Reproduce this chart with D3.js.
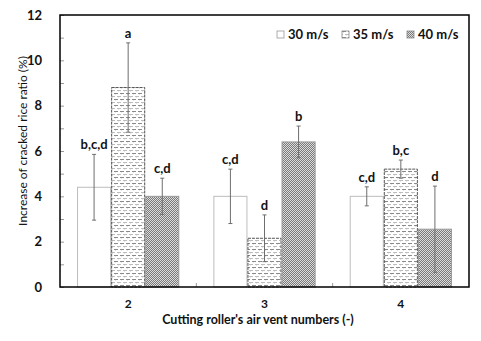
<!DOCTYPE html>
<html>
<head>
<meta charset="utf-8">
<script src="https://cdn.jsdelivr.net/npm/d3@7"></script>
<style>
  body { margin: 0; background: #fff; }
  text { font-family: Lato, "Open Sans", sans-serif; }
</style>
</head>
<body>
<svg id="chart" width="481" height="341"></svg>
<script>
// vent numbers on the x axis
const groups = ["2", "3", "4"];
const speeds = ["30 m/s", "35 m/s", "40 m/s"];

// mean increase of cracked rice ratio (%), one array per speed
const means30 = [4.4, 4.0, 4.0];
const means35 = [8.8, 2.15, 5.2];
const means40 = [4.0, 6.4, 2.55];

// half width of the error bars
const err30 = [1.45, 1.2, 0.42];
const err35 = [1.97, 1.03, 0.4];
const err40 = [0.8, 0.7, 1.9];

// letters of the significance groups
const letters30 = ["b,c,d", "c,d", "c,d"];
const letters35 = ["a", "d", "b,c"];
const letters40 = ["c,d", "b", "d"];

const yTicks = [0, 2, 4, 6, 8, 10, 12];

const series = [
    {key: speeds[0], means: means30, err: err30, letters: letters30},
    {key: speeds[1], means: means35, err: err35, letters: letters35},
    {key: speeds[2], means: means40, err: err40, letters: letters40}
];

const svg = d3.select("#chart");
const margin = {left: 60, top: 15, right: 12, bottom: 54};
const width = 481 - margin.left - margin.right;
const height = 341 - margin.top - margin.bottom;

// fill patterns
const defs = svg.append("defs");

let p35 = defs.append("pattern")
    .attr("id", "pat35")
    .attr("patternUnits", "userSpaceOnUse")
    .attr("width", 6).attr("height", 6);
p35.append("rect").attr("width", 6).attr("height", 6).attr("fill", "#fff");
p35.append("rect").attr("x", 0).attr("y", 0).attr("width", 4).attr("height", 1).attr("fill", "#8a8a8a");
p35.append("rect").attr("x", 3).attr("y", 3).attr("width", 4).attr("height", 1).attr("fill", "#bdbdbd");
p35.append("rect").attr("x", -3).attr("y", 3).attr("width", 4).attr("height", 1).attr("fill", "#bdbdbd");
p35.append("rect").attr("x", 1).attr("y", 1).attr("width", 1).attr("height", 1).attr("fill", "#e4e4e4");
p35.append("rect").attr("x", 4).attr("y", 4).attr("width", 1).attr("height", 1).attr("fill", "#e4e4e4");

let p40 = defs.append("pattern")
    .attr("id", "pat40")
    .attr("patternUnits", "userSpaceOnUse")
    .attr("width", 2).attr("height", 2);
p40.append("rect").attr("width", 2).attr("height", 2).attr("fill", "#dcdcdc");
p40.append("rect").attr("x", 0).attr("y", 0).attr("width", 1).attr("height", 1).attr("fill", "#7a7a7a");
p40.append("rect").attr("x", 1).attr("y", 1).attr("width", 1).attr("height", 1).attr("fill", "#7a7a7a");

const fills = {"30 m/s": "#fff", "35 m/s": "url(#pat35)", "40 m/s": "url(#pat40)"};
const strokes = {"30 m/s": "#bdbdbd", "35 m/s": "#555", "40 m/s": "#9a9a9a"};

const g = svg.append("g").attr("transform", `translate(${margin.left},${margin.top})`);

const x0 = d3.scaleBand().domain(groups).range([0, width]).paddingInner(0).paddingOuter(0);
const x1 = d3.scaleBand().domain(speeds).range([0, x0.bandwidth()]).paddingInner(0).paddingOuter(0.5);
const y = d3.scaleLinear().domain([0, 12]).range([height, 0]);

// minor ticks inside left axis
g.append("g")
    .call(d3.axisLeft(y).tickValues(d3.range(0, 13, 1)).tickSize(-4).tickFormat(""))
    .call(a => a.select(".domain").remove())
    .call(a => a.selectAll("line").attr("stroke", "#999"));

// tick labels
g.append("g")
    .call(d3.axisLeft(y).tickValues(yTicks).tickSize(0).tickPadding(18))
    .call(a => a.select(".domain").remove())
    .call(a => a.selectAll("text")
        .attr("font-size", 13).attr("font-weight", "bold").attr("fill", "#111"));

// x axis group separators
g.append("g")
    .selectAll("line")
    .data(groups.slice(1))
    .join("line")
    .attr("x1", d => x0(d)).attr("x2", d => x0(d))
    .attr("y1", height).attr("y2", height - 4)
    .attr("stroke", "#999");

g.append("g")
    .attr("transform", `translate(0,${height})`)
    .call(d3.axisBottom(x0).tickSize(0).tickPadding(12))
    .call(a => a.select(".domain").remove())
    .call(a => a.selectAll("text")
        .attr("font-size", 12).attr("font-weight", "bold").attr("fill", "#111"));

// bars
const barData = [];
series.forEach(s => {
    groups.forEach((grp, i) => {
        barData.push({group: grp, key: s.key, value: s.means[i], err: s.err[i], letter: s.letters[i]});
    });
});

const bw = x1.bandwidth();
const bx = d => x0(d.group) + x1(d.key);

g.append("g")
    .selectAll("rect")
    .data(barData)
    .join("rect")
    .attr("x", d => bx(d) + 0.5)
    .attr("y", d => y(d.value))
    .attr("width", bw - 1)
    .attr("height", d => height - y(d.value))
    .attr("fill", d => fills[d.key])
    .attr("stroke", d => strokes[d.key])
    .attr("stroke-width", 1)
    .attr("stroke-dasharray", d => d.key === "35 m/s" ? "3,1" : null);

// error bars
let eb = g.append("g").attr("stroke", "#6e6e6e").attr("stroke-width", 1);
eb.selectAll("line.v")
    .data(barData)
    .join("line")
    .attr("class", "v")
    .attr("x1", d => bx(d) + bw / 2).attr("x2", d => bx(d) + bw / 2)
    .attr("y1", d => y(d.value + d.err)).attr("y2", d => y(d.value - d.err));
eb.selectAll("line.t")
    .data(barData)
    .join("line")
    .attr("class", "t")
    .attr("x1", d => bx(d) + bw / 2 - 2).attr("x2", d => bx(d) + bw / 2 + 2)
    .attr("y1", d => y(d.value + d.err)).attr("y2", d => y(d.value + d.err));
eb.selectAll("line.b")
    .data(barData)
    .join("line")
    .attr("class", "b")
    .attr("x1", d => bx(d) + bw / 2 - 2).attr("x2", d => bx(d) + bw / 2 + 2)
    .attr("y1", d => y(d.value - d.err)).attr("y2", d => y(d.value - d.err));

// significance letters
g.append("g")
    .selectAll("text")
    .data(barData)
    .join("text")
    .attr("x", d => bx(d) + bw / 2)
    .attr("y", d => y(d.value + d.err) - 5)
    .attr("text-anchor", "middle")
    .attr("font-size", 13)
    .attr("font-weight", "bold")
    .attr("fill", "#111")
    .text(d => d.letter);

// frame
g.append("rect")
    .attr("width", width).attr("height", height)
    .attr("fill", "none").attr("stroke", "#000").attr("stroke-width", 1.5);

// legend
const legX = [277, 342, 407];
let leg = g.append("g").attr("transform", `translate(${-margin.left},${-margin.top})`)
    .selectAll("g")
    .data(speeds)
    .join("g")
    .attr("transform", (d, i) => `translate(${legX[i]},31)`);
leg.append("rect")
    .attr("width", 7).attr("height", 7)
    .attr("fill", d => fills[d])
    .attr("stroke", d => d === "30 m/s" ? "#999" : "#888")
    .attr("stroke-width", 0.8);
leg.append("text")
    .attr("x", 11).attr("y", 8)
    .attr("font-size", 13).attr("font-weight", "bold").attr("fill", "#111")
    .text(d => d);

// axis titles
svg.append("text")
    .attr("transform", "translate(27,141) rotate(-90)")
    .attr("text-anchor", "middle")
    .attr("font-size", 12)
    .attr("fill", "#111")
    .text("Increase of cracked rice ratio (%)");

svg.append("text")
    .attr("x", 258).attr("y", 324)
    .attr("text-anchor", "middle")
    .attr("font-size", 12.5)
    .attr("font-weight", "bold")
    .attr("fill", "#111")
    .text("Cutting roller's air vent numbers (-)");
</script>
</body>
</html>
